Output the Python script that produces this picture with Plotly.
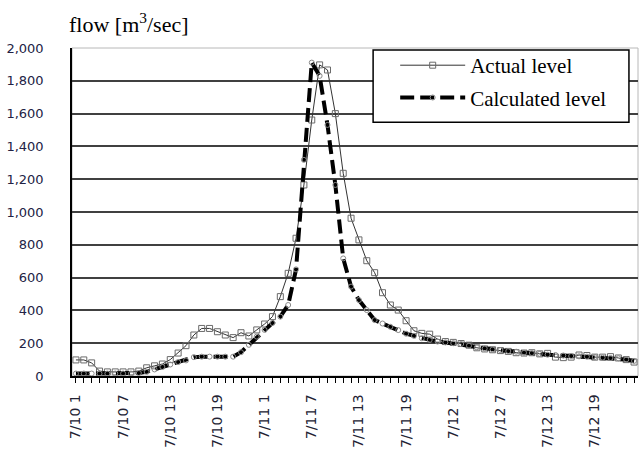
import plotly.graph_objects as go

days = ["7/10", "7/11", "7/12"]
hours = list(range(1, 25))
categories = [f"{d} {h}" for d in days for h in hours]

actual_level = [
    98, 98, 80, 30, 25, 25, 25, 25, 30, 50,
    62, 73, 100, 140, 185, 250, 290, 290, 270, 250,
    234, 264, 244, 281, 317, 362, 484, 626, 840, 1165,
    1561, 1897, 1866, 1600, 1236, 962, 830, 703, 630, 508,
    433, 402, 337, 276, 260, 255, 225, 210, 205, 198,
    188, 172, 165, 160, 155, 150, 142, 140, 142, 135,
    138, 115, 112, 115, 128, 125, 115, 115, 118, 110,
    100, 85,
]

calculated_level = [
    15, 15, 15, 15, 15, 15, 15, 15, 18, 25,
    40, 55, 70, 85, 95, 115, 118, 118, 118, 118,
    118, 145, 190, 240, 281, 323, 362, 433, 650, 1318,
    1911, 1830, 1531, 1165, 717, 545, 463, 402, 341, 320,
    300, 280, 258, 245, 230, 220, 210, 205, 200, 195,
    185, 175, 168, 162, 158, 152, 148, 142, 140, 135,
    130, 128, 125, 122, 120, 118, 115, 112, 110, 108,
    100, 92,
]

y_ticks = list(range(0, 2001, 200))
label_every = 6
tick_text = [c if i % label_every == 0 else "" for i, c in enumerate(categories)]

fig = go.Figure()

fig.add_trace(go.Scatter(
    x=categories, y=actual_level, name="Actual level",
    legendgroup="a",
    mode="lines+markers",
    line=dict(color="#333333", width=1),
    marker=dict(symbol="square-open", size=6, color="#6a6a6a", line=dict(width=1)),
))
fig.add_trace(go.Scatter(
    x=categories, y=calculated_level, name="Calculated level",
    legendgroup="c",
    mode="lines+markers",
    line=dict(color="#000000", width=4, dash="14px,6px"),
    marker=dict(symbol="circle-open", size=5, color="#8a8a8a", line=dict(width=1)),
))

fig.update_layout(
    width=642, height=450,
    margin=dict(l=72, r=4, t=48, b=74, autoexpand=False),
    paper_bgcolor="white", plot_bgcolor="white",
    showlegend=True,
    legend=dict(
        x=0.571, y=1.009, xanchor="left", yanchor="top",
        bgcolor="rgba(0,0,0,0)", borderwidth=0,
        font=dict(family="Liberation Serif", size=21, color="black"),
        traceorder="grouped", tracegroupgap=2, itemwidth=65,
    ),
    annotations=[dict(
        text="flow [m<sup>3</sup>/sec]", xref="paper", yref="paper",
        x=-0.009, y=1.0, xanchor="left", yanchor="bottom", yshift=9,
        showarrow=False,
        font=dict(family="Liberation Serif", size=22, color="black"),
    )],
)

fig.update_xaxes(
    type="category", categoryorder="array", categoryarray=categories,
    tickmode="array", tickvals=categories, ticktext=tick_text,
    tickangle=-90, ticks="outside", ticklen=5, tickcolor="black",
    tickfont=dict(family="DejaVu Sans", size=14, color="#222233"),
    ticklabelstandoff=6,
    showline=True, linecolor="black", linewidth=1.5,
    showgrid=False, mirror=False, range=[-0.5, 71.5], automargin=False,
)
fig.update_yaxes(
    range=[0, 2000], tickmode="array", tickvals=y_ticks,
    ticktext=[f"{v:,}" for v in y_ticks],
    tickfont=dict(family="DejaVu Sans", size=13, color="#222244"),
    showgrid=True, gridcolor="#404040", gridwidth=1.5,
    showline=True, linecolor="black", linewidth=1.5,
    ticks="", ticklabelstandoff=24, zeroline=False, automargin=False,
)
# plot frame (light grey, Excel style)
fig.add_shape(type="rect", xref="paper", yref="paper", x0=0, y0=0, x1=1, y1=1,
              line=dict(color="#b8b8b8", width=1), layer="below")
# legend box
fig.add_shape(type="rect", xref="paper", yref="paper",
              x0=0.532, x1=0.984, y0=0.774, y1=0.994,
              line=dict(color="black", width=1.5), fillcolor="white", layer="above")

fig.write_html("out.html", config={"displayModeBar": False},
               post_script="document.body.style.margin='0';")
